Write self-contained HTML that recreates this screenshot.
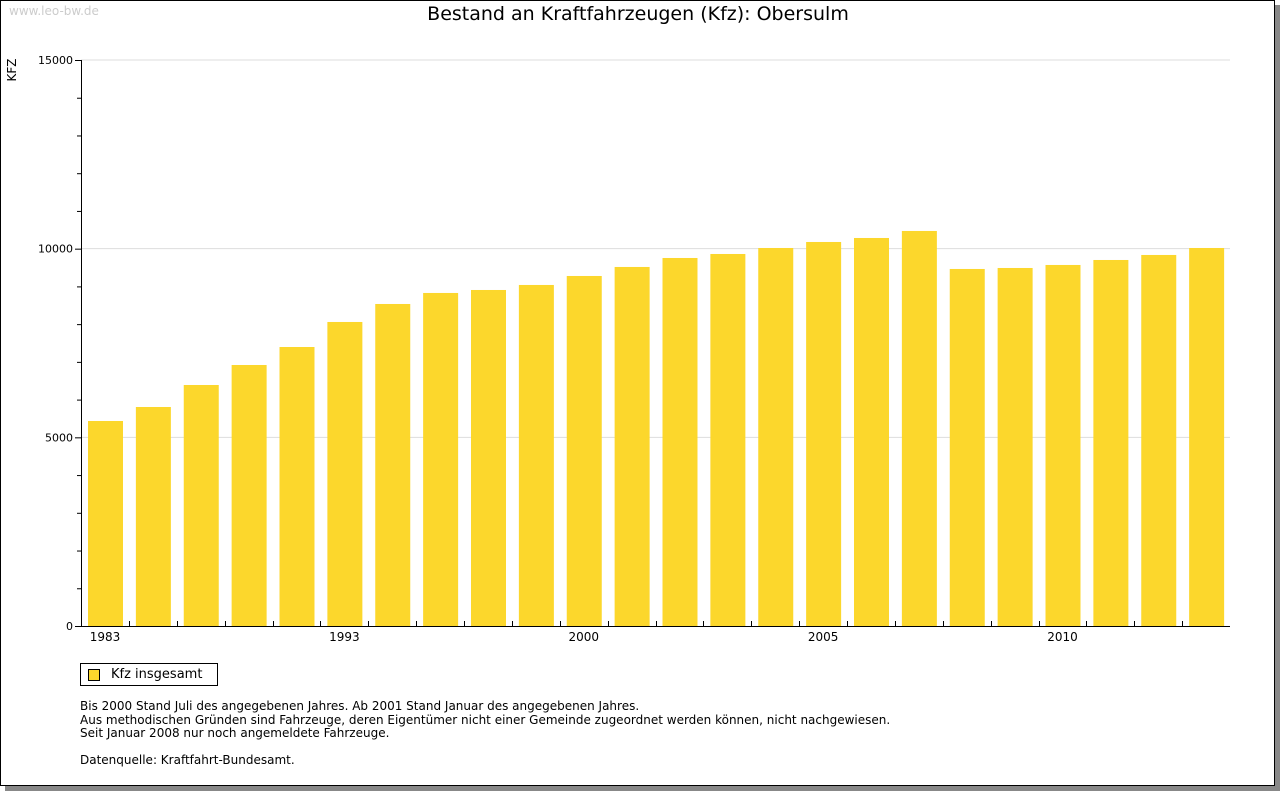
<!DOCTYPE html>
<html><head><meta charset="utf-8"><style>
body{margin:0;background:#fff;width:1280px;height:791px;overflow:hidden;font-family:"DejaVu Sans","Liberation Sans",sans-serif;}
#frame{position:absolute;left:0;top:0;width:1273px;height:784px;border:1px solid #000;box-shadow:5px 5px 0 #888;background:#fff;}
.t{position:absolute;white-space:nowrap;}
</style></head><body>
<div id="frame"></div>
<div class="t" style="left:9px;top:4px;font-size:12px;color:#ccc;">www.leo-bw.de</div>
<div class="t" style="left:0;width:1276px;text-align:center;top:3px;font-size:19px;color:#000;">Bestand an Kraftfahrzeugen (Kfz): Obersulm</div>
<svg id="chart" width="1280" height="791" style="position:absolute;left:0;top:0"></svg>
<div class="t" style="left:80px;top:663px;width:136px;height:21px;border:1px solid #000;font-size:13px;">
<span style="position:absolute;left:7px;top:5px;width:10px;height:10px;background:#fcd72c;border:1px solid #000;"></span>
<span style="position:absolute;left:30px;top:3px;">Kfz insgesamt</span></div>
<div class="t" style="left:80px;top:700px;font-size:12px;line-height:13.5px;">Bis 2000 Stand Juli des angegebenen Jahres. Ab 2001 Stand Januar des angegebenen Jahres.<br>Aus methodischen Gründen sind Fahrzeuge, deren Eigentümer nicht einer Gemeinde zugeordnet werden können, nicht nachgewiesen.<br>Seit Januar 2008 nur noch angemeldete Fahrzeuge.<br><br>Datenquelle: Kraftfahrt-Bundesamt.</div>
<script>
const categories=["1983","1985","1987","1989","1991","1993","1995","1996","1997","1998","2000","2001","2002","2003","2004","2005","2006","2007","2008","2009","2010","2011","2012","2013"];
const values=[5433,5804,6387,6917,7394,8057,8534,8826,8905,9038,9276,9515,9753,9859,10018,10177,10283,10469,9462,9488,9568,9700,9833,10018];
const shownLabels=["1983","1993","2000","2005","2010"];
const yTicks=[0,5000,10000,15000];
const yMax=15000;
const NS="http://www.w3.org/2000/svg";
const svg=document.getElementById('chart');
const X0=81,X1=1230,Y0=626,Y1=60;
const slot=(X1-X0)/categories.length;
const y=v=>Y0-(v/yMax)*(Y0-Y1);
const x=i=>X0+i*slot;
function mk(tag,a){const e=document.createElementNS(NS,tag);for(const k in a)e.setAttribute(k,a[k]);svg.appendChild(e);return e;}
yTicks.forEach(v=>{
 if(v>0){const g=mk('line',{x1:X0,x2:X1,y1:y(v),y2:y(v),stroke:'#ddd','stroke-width':1});
 
 }
 const t=mk('text',{x:X0-8,y:y(v)+4,'text-anchor':'end','font-size':11,'font-family':'DejaVu Sans, sans-serif'});
 t.textContent=v;
 
 
});
for(let v=0;v<=yMax;v+=1000){const l=mk('line',{x1:X0-(v%5000===0?6:4),x2:X0,y1:y(v)+0.5,y2:y(v)+0.5,stroke:'#000'});
 
 }
values.forEach((v,i)=>{
 const r=mk('rect',{x:x(i)+7,y:y(v),width:35,height:Y0-y(v),fill:'#fcd72c'});
 
 
});
categories.forEach((c,i)=>{
 if(i>0){const l=mk('line',{x1:Math.round(x(i))+0.5,x2:Math.round(x(i))+0.5,y1:Y0-5,y2:Y0,stroke:'#000'});
 
 }
 if(shownLabels.includes(c)){const t=mk('text',{x:x(i)+24,y:Y0+15,'text-anchor':'middle','font-size':12,'font-family':'DejaVu Sans, sans-serif'});
 t.textContent=c;
 
 }
});
const ax=mk('path',{d:`M${X0+0.5},${Y1} V${Y0+0.5} H${X1}`,fill:'none',stroke:'#000'});


const yt=mk('text',{x:0,y:0,transform:'translate(16,70) rotate(-90)','text-anchor':'middle','font-size':12,'font-family':'DejaVu Sans, sans-serif'});
yt.textContent='KFZ';


</script>
</body></html>
